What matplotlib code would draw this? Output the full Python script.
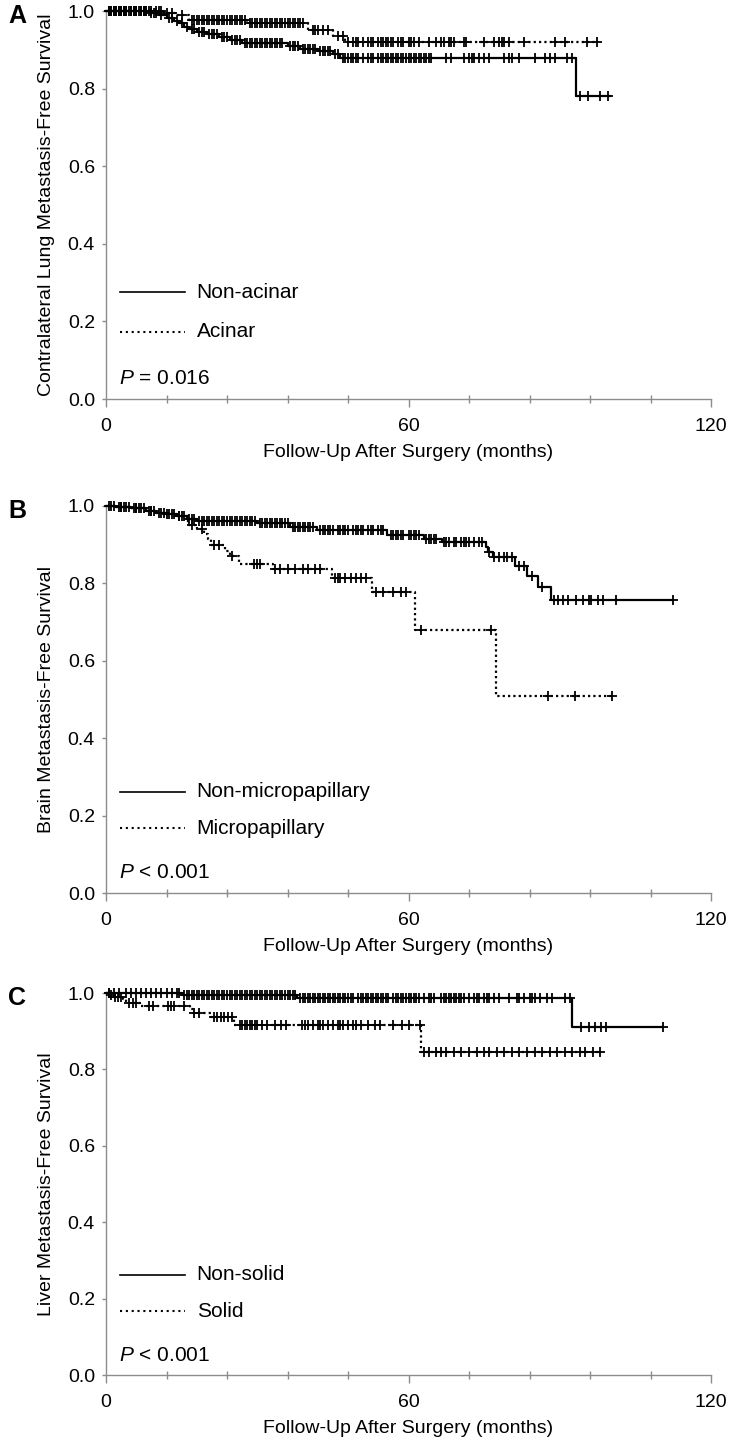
import numpy as np
import matplotlib
matplotlib.use("Agg")
import matplotlib.pyplot as plt

plt.rcParams['font.family'] = ['Liberation Sans', 'DejaVu Sans']
plt.rcParams['mathtext.fontset'] = 'custom'
plt.rcParams['mathtext.rm'] = 'Liberation Sans'
plt.rcParams['mathtext.it'] = 'Liberation Sans:italic'

# ---------------- DATA ----------------
# Panel A: contralateral lung metastasis
a_solid_steps_t = [8.7, 10.5, 12, 13.5, 14.5, 15.5, 16.5, 18, 20, 22.5, 24.5, 27, 36, 38.5, 42, 45, 46.5, 93.2]
a_solid_steps_s = [0.995, 0.99, 0.983, 0.975, 0.968, 0.96, 0.953, 0.945, 0.94, 0.932, 0.925, 0.917, 0.911, 0.903, 0.897, 0.89, 0.88, 0.78]
a_solid_end = 100
a_solid_cens = [0.5, 1, 1.5, 2, 2.5, 3, 3.5, 4, 4.5, 5, 5.5, 6, 6.5, 7, 7.5, 8, 9, 9.5, 10, 11,
                12.5, 13, 14, 15, 16, 17, 17.5, 18.5, 19, 19.5, 20.5, 21, 21.5, 22, 23, 23.5, 24, 25, 25.5, 26,
                26.5, 27.5, 28, 28.5, 29, 29.5, 30, 30.5, 31, 31.5, 32, 32.5, 33, 33.5, 34, 34.5, 35, 36.5, 37,
                37.5, 38, 39, 39.5, 40, 40.5, 41, 41.5, 42.5, 43, 43.5, 44, 44.5, 45.5, 46,
                47, 47.5, 48, 48.5, 49, 49.5, 50, 51, 52, 52.5, 53, 54, 54.5, 55, 55.5, 56, 56.5, 57, 57.5, 58,
                58.5, 59, 59.5, 60, 60.5, 61, 61.5, 62, 62.5, 63, 63.5, 64, 64.5, 67.5, 68.5, 71, 72, 72.5, 73,
                74, 75, 76, 79, 80, 80.5, 82, 85, 87, 88, 89, 91.5, 92.5, 94, 95.7, 98, 99.6]
a_dot_steps_t = [11.5, 14, 16.5, 28, 40, 45, 47.5]
a_dot_steps_s = [0.995, 0.99, 0.978, 0.968, 0.952, 0.935, 0.921]
a_dot_end = 97.4
a_dot_cens = [0.5, 1, 1.5, 2, 2.5, 3, 3.5, 4, 5, 5.5, 6, 7, 7.5, 8, 8.5, 9, 10, 10.5, 11, 12, 13, 15,
              17, 17.5, 18, 18.5, 19, 19.5, 20, 20.5, 21, 21.5, 22, 22.5, 23, 23.5, 24, 24.5, 25, 25.5, 26,
              26.5, 27, 27.5, 28.5, 29, 29.5, 30, 30.5, 31, 31.5, 32, 32.5, 33, 33.5, 34, 34.5, 35, 35.5, 36,
              36.5, 37, 37.5, 38, 38.5, 39, 41, 41.5, 42, 43, 44, 46, 47, 48, 49, 49.5, 50, 51, 52, 52.5, 53,
              54, 54.5, 55, 55.5, 56, 56.5, 57, 58, 58.5, 59, 60, 60.5, 61, 62, 64, 65.5, 66.5, 67, 68, 68.5,
              69, 71, 71.5, 75, 77, 78, 78.5, 79, 80, 83, 89, 91, 95.5, 97.4]

# Panel B: brain metastasis
b_solid_steps_t = [2, 5, 8, 10, 12, 14, 16, 18, 30, 36.5, 41.8, 55.7, 63, 66.6, 75.4, 75.8, 76.7, 81.2, 83.6, 85.6, 88.2]
b_solid_steps_s = [0.997, 0.994, 0.988, 0.983, 0.979, 0.973, 0.967, 0.962, 0.955, 0.945, 0.937, 0.925, 0.916,
                   0.906, 0.893, 0.88, 0.868, 0.845, 0.82, 0.79, 0.758]
b_solid_end = 112.4
b_solid_cens = [0.5, 1, 1.5, 2.5, 3, 3.5, 4, 4.5, 5.5, 6, 6.5, 7, 7.5, 8.5, 9, 9.5, 10.5, 11, 11.5, 12.5, 13,
                13.5, 14.5, 15, 15.5, 16.5, 17, 17.5, 18.5, 19, 19.5, 20, 20.5, 21, 21.5, 22, 22.5, 23, 23.5,
                24, 24.5, 25, 25.5, 26, 26.5, 27, 27.5, 28, 28.5, 29, 29.5, 30.5, 31, 31.5, 32, 32.5, 33, 33.5,
                34, 34.5, 35, 35.5, 36, 37, 37.5, 38, 38.5, 39, 39.5, 40, 40.5, 41, 42.5, 43, 43.5, 44, 44.5,
                45, 46, 46.5, 47, 47.5, 48, 49, 49.5, 50, 50.5, 51, 52, 52.5, 53, 54, 54.5, 55, 56.5, 57, 57.5,
                58, 58.5, 59, 60, 60.5, 61, 61.5, 62, 63.5, 64, 64.5, 65, 65.5, 67, 67.5, 68, 69, 69.5, 70.5,
                71, 71.5, 72, 73, 74, 74.5, 76, 77, 78, 79, 79.5, 80.5, 82, 83, 84.5, 86.5, 88.9, 89.6, 90.6,
                91.6, 93.2, 94.6, 95.9, 96.2, 97.6, 98.6, 101.2, 112.4]
b_dot_steps_t = [2, 5, 8, 10, 12, 14, 16.3, 18, 19.5, 20.2, 20.8, 23.6, 24.6, 26.3, 33.2, 44.9, 52.8, 61.3, 77.3]
b_dot_steps_s = [0.997, 0.994, 0.988, 0.983, 0.979, 0.973, 0.95, 0.94, 0.928, 0.915, 0.899, 0.885, 0.872,
                 0.851, 0.836, 0.814, 0.778, 0.679, 0.51]
b_dot_end = 100.3
b_dot_cens = [3, 6, 9, 12, 14.5, 17, 19, 21.5, 22.5, 25, 29.3, 30, 30.6, 33.5, 34.5, 36, 37.5, 39, 40, 41.5,
              42.5, 45.5, 46, 46.5, 47.5, 48.5, 49.5, 50.5, 51.5, 53.6, 55, 57, 58.5, 59.5, 62.4, 76.4, 87.6,
              93, 100.3]

# Panel C: liver metastasis
c_solid_steps_t = [15, 37.9, 92.4]
c_solid_steps_s = [0.996, 0.988, 0.912]
c_solid_end = 110.4
c_solid_cens = [0.5, 1.5, 2.5, 4, 5, 6, 7, 8, 9, 10, 11, 12, 13, 14, 14.5, 15.5, 16, 16.5, 17, 17.5, 18, 18.5,
                19, 19.5, 20, 20.5, 21, 21.5, 22, 22.5, 23, 23.5, 24, 24.5, 25, 25.5, 26, 26.5, 27, 27.5, 28,
                28.5, 29, 29.5, 30, 30.5, 31, 31.5, 32, 32.5, 33, 33.5, 34, 34.5, 35, 35.5, 36, 36.5, 37, 37.5,
                38.5, 39, 39.5, 40, 40.5, 41, 41.5, 42, 42.5, 43, 43.5, 44, 44.5, 45, 45.5, 46, 46.5, 47, 47.5,
                48, 48.5, 49, 50, 50.5, 51, 51.5, 52, 52.5, 53, 53.5, 54, 54.5, 55, 55.5, 56, 57, 57.5, 58, 58.5,
                59, 59.5, 60, 60.5, 61, 61.5, 62, 63, 64, 64.5, 65, 66.5, 67, 67.5, 68, 68.5, 69, 69.5, 70, 70.5,
                71, 72, 73, 73.5, 74, 75, 75.5, 76, 77, 78, 80, 81.5, 82, 83, 84, 84.5, 85, 86, 87.5, 88.5, 91,
                92, 94.2, 95.9, 96.9, 98.2, 99.2, 110.4]
c_dot_steps_t = [0.7, 1.3, 3.4, 4, 6.7, 16.7, 17.3, 20.8, 25.3, 62.4]
c_dot_steps_s = [0.995, 0.99, 0.983, 0.975, 0.966, 0.957, 0.947, 0.936, 0.916, 0.845]
c_dot_end = 98
c_dot_cens = [0.5, 1, 1.7, 2.3, 3, 4.5, 5.3, 6, 8.6, 9.3, 12.2, 12.8, 13.5, 15.5, 17.5, 18.5, 21.4, 22, 22.8,
              23.5, 24.2, 25, 26.5, 27, 27.5, 28, 28.5, 29, 29.5, 30, 31, 32, 33.5, 34.8, 35.8, 38.8, 39.5, 40,
              41, 42, 42.5, 43, 44, 45, 46, 46.5, 47, 48, 49, 49.5, 50.5, 52, 53.4, 54.4, 57, 58.7, 60, 62.3,
              63, 64, 65.5, 66.5, 67.5, 69, 70.5, 72, 73.5, 75, 76, 77.5, 79, 80.5, 82, 83.5, 85, 86.5, 88,
              89.5, 91, 92.5, 94, 95, 96.5, 98]

ylabels = ["Contralateral Lung Metastasis-Free Survival",
           "Brain Metastasis-Free Survival",
           "Liver Metastasis-Free Survival"]
legend_solid = ["Non-acinar", "Non-micropapillary", "Non-solid"]
legend_dot = ["Acinar", "Micropapillary", "Solid"]
p_texts = ["$P$ = 0.016", "$P$ < 0.001", "$P$ < 0.001"]
panel_letters = ["A", "B", "C"]
xlabel = "Follow-Up After Surgery (months)"

panels = [
    (a_solid_steps_t, a_solid_steps_s, a_solid_end, a_solid_cens,
     a_dot_steps_t, a_dot_steps_s, a_dot_end, a_dot_cens),
    (b_solid_steps_t, b_solid_steps_s, b_solid_end, b_solid_cens,
     b_dot_steps_t, b_dot_steps_s, b_dot_end, b_dot_cens),
    (c_solid_steps_t, c_solid_steps_s, c_solid_end, c_solid_cens,
     c_dot_steps_t, c_dot_steps_s, c_dot_end, c_dot_cens),
]

# ---------------- PLOT ----------------
W, H = 733, 1441
fig = plt.figure(figsize=(W / 100, H / 100), dpi=100)

# (top pixel of 1.0, bottom pixel of 0.0)
rows = [(11, 399), (506, 893), (993, 1375)]
left_px, right_px = 106, 711

FS = 14
LFS = 15
spine_col = '#8c8c8c'
dotted = (0, (1, 1.4))


def step_arrays(ts, ss, end):
    t = np.concatenate([[0.0], np.asarray(ts, float), [end]])
    s = np.concatenate([[1.0], np.asarray(ss, float), [ss[-1]]])
    return t, s


def surv_at(ts, ss, x):
    t = np.concatenate([[0.0], np.asarray(ts, float)])
    s = np.concatenate([[1.0], np.asarray(ss, float)])
    idx = np.searchsorted(t, np.asarray(x, float), side='right') - 1
    return s[idx]


leg_y = [(0.275, 0.173), (0.262, 0.167), (0.262, 0.167)]

for i, (top, bot) in enumerate(rows):
    ax = fig.add_axes([left_px / W, 1 - bot / H, (right_px - left_px) / W, (bot - top) / H])
    st, ss, se, sc, dt, ds, de, dc = panels[i]

    t, s = step_arrays(st, ss, se)
    ax.step(t, s, where='post', color='black', lw=1.6, clip_on=False, zorder=3)
    ax.plot(sc, surv_at(st, ss, sc), linestyle='none', marker='+', ms=7, mew=1.3,
            color='black', clip_on=False, zorder=3)

    t, s = step_arrays(dt, ds, de)
    ax.step(t, s, where='post', color='black', lw=1.6, linestyle=dotted, clip_on=False, zorder=3)
    ax.plot(dc, surv_at(dt, ds, dc), linestyle='none', marker='+', ms=7, mew=1.3,
            color='black', clip_on=False, zorder=3)

    ax.set_xlim(0, 120)
    ax.set_ylim(0, 1.0)
    ax.set_xticks([0, 60, 120])
    ax.set_xticks([12, 24, 36, 48, 72, 84, 96, 108], minor=True)
    ax.set_yticks([0, 0.2, 0.4, 0.6, 0.8, 1.0])
    ax.set_yticklabels(["0.0", "0.2", "0.4", "0.6", "0.8", "1.0"])
    for sp in ['top', 'right']:
        ax.spines[sp].set_visible(False)
    for sp in ['left', 'bottom']:
        ax.spines[sp].set_color(spine_col)
        ax.spines[sp].set_linewidth(1.0)
    ax.tick_params(axis='x', which='major', direction='out', length=6, width=1.0,
                   color=spine_col, labelsize=FS, pad=8)
    ax.tick_params(axis='x', which='minor', direction='inout', length=6, width=1.0, color=spine_col)
    ax.tick_params(axis='y', which='major', direction='out', length=3, width=1.0,
                   color=spine_col, labelsize=FS, pad=5)
    ax.set_xlabel(xlabel, fontsize=FS, labelpad=6)
    ax.set_ylabel(ylabels[i], fontsize=FS, labelpad=9)

    # legend drawn manually
    y1, y2 = leg_y[i]
    ax.plot([2.8, 15.7], [y1, y1], color='black', lw=1.2)
    ax.plot([2.8, 15.7], [y2, y2], color='black', lw=1.5, linestyle=(0, (1, 1.8)))
    ax.text(18, y1, legend_solid[i], fontsize=LFS, va='center', ha='left')
    ax.text(18, y2, legend_dot[i], fontsize=LFS, va='center', ha='left')
    ax.text(2.6, 0.052, p_texts[i], fontsize=LFS, va='center', ha='left')

    fig.text(8 / W, 1 - (top + 5) / H, panel_letters[i], fontsize=18, fontweight='bold',
             va='center', ha='left')

fig.savefig("out.png", dpi=100)
